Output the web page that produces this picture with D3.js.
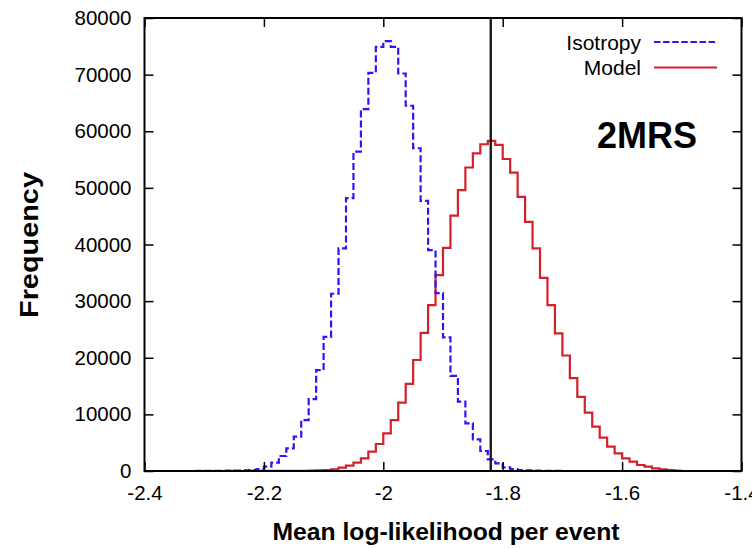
<!DOCTYPE html>
<html>
<head>
<meta charset="utf-8">
<script src="https://cdn.jsdelivr.net/npm/d3@7/dist/d3.min.js"></script>
<style>
  html, body { margin: 0; padding: 0; background: #fff; }
  svg { display: block; font-family: "Liberation Sans", Arial, Helvetica, sans-serif; }
</style>
</head>
<body>
<svg id="chart" width="752" height="548"></svg>
<script>
// Histogram bins: all start at -2.4 and are 0.0125 wide
const binStart = -2.4;
const binWidth = 0.0125;

// Frequency per bin for randomised (isotropic) skies
const isotropyCounts = [
  0, 0, 0, 0, 0, 0, 0, 5, 10, 20,
  30, 50, 80, 120, 170, 350, 760, 1470, 2650, 4000,
  6060, 9000, 12700, 17800, 23700, 31300, 39300, 48200, 56400, 63900,
  70300, 74900, 75900, 74900, 70200, 64500, 57000, 47700, 39000, 31400,
  23600, 16800, 12240, 8420, 5600, 3530, 2060, 1360, 650, 350,
  180, 100, 50, 25, 10, 5
];

// Frequency per bin for skies drawn from the model
const modelCounts = [
  0, 0, 0, 0, 0, 0, 0, 0, 0, 0,
  0, 0, 0, 0, 5, 5, 10, 10, 15, 20,
  30, 45, 65, 100, 150, 300, 580, 940, 1470, 2240,
  3410, 4770, 6660, 9000, 12060, 15400, 19600, 24400, 29300, 34600,
  39400, 45100, 49600, 53600, 56100, 57700, 58300, 57600, 55100, 52700,
  48400, 44000, 39300, 34100, 29300, 24300, 20400, 16400, 13100, 10300,
  7830, 5890, 4300, 3120, 2240, 1650, 1060, 760, 470, 280,
  150, 80
];

// Observed value for the 2MRS catalogue
const observedValue = -1.82;

const xTicks = [-2.4, -2.2, -2.0, -1.8, -1.6, -1.4];
const xTickLabels = ["-2.4", "-2.2", "-2", "-1.8", "-1.6", "-1.4"];
const yTicks = [0, 10000, 20000, 30000, 40000, 50000, 60000, 70000, 80000];

const seriesNames = ["Isotropy", "Model"];
const seriesColors = ["#2f14f6", "#d4202a"];

const svg = d3.select("#chart");
const plot = { left: 144.5, right: 741.5, top: 18, bottom: 471 };

const x = d3.scaleLinear().domain([-2.4, -1.4]).range([plot.left, plot.right]);
const y = d3.scaleLinear().domain([0, 80000]).range([plot.bottom, plot.top]);

// Turn bin counts into step-shaped points (left edge of every bin + final right edge)
function stepPoints(counts) {
  const pts = counts.map((c, i) => [binStart + i * binWidth, c]);
  pts.push([binStart + counts.length * binWidth, counts[counts.length - 1]]);
  return pts;
}
const stepLine = d3.line()
  .x(d => x(d[0]))
  .y(d => y(d[1]))
  .curve(d3.curveStepAfter);

svg.append("clipPath").attr("id", "plotclip")
  .append("rect")
  .attr("x", plot.left).attr("y", plot.top)
  .attr("width", plot.right - plot.left).attr("height", plot.bottom - plot.top);

const g = svg.append("g").attr("clip-path", "url(#plotclip)");

// Model histogram (solid red)
g.append("path")
  .attr("d", stepLine(stepPoints(modelCounts)))
  .attr("fill", "none")
  .attr("stroke", seriesColors[1])
  .attr("stroke-width", 2.2)
  .attr("stroke-linejoin", "miter");

// Isotropy histogram (dashed blue)
g.append("path")
  .attr("d", stepLine(stepPoints(isotropyCounts)))
  .attr("fill", "none")
  .attr("stroke", seriesColors[0])
  .attr("stroke-width", 2.2)
  .attr("stroke-dasharray", "7,3");

// Observed value marker
svg.append("line")
  .attr("x1", x(observedValue)).attr("x2", x(observedValue))
  .attr("y1", plot.top).attr("y2", plot.bottom)
  .attr("stroke", "#1a1a1a")
  .attr("stroke-width", 2.4);

// Axes: ticks pointing inward, mirrored on top and right
const tickLen = 9;
const axisBottom = d3.axisBottom(x).tickValues(xTicks)
  .tickFormat((d, i) => xTickLabels[i]).tickSizeInner(-tickLen).tickSizeOuter(0).tickPadding(14);
const axisTop = d3.axisTop(x).tickValues(xTicks).tickFormat("").tickSizeInner(-tickLen).tickSizeOuter(0);
const axisLeft = d3.axisLeft(y).tickValues(yTicks).tickFormat(d3.format("d"))
  .tickSizeInner(-tickLen).tickSizeOuter(0).tickPadding(13);
const axisRight = d3.axisRight(y).tickValues(yTicks).tickFormat("").tickSizeInner(-tickLen).tickSizeOuter(0);

function styleAxis(sel) {
  sel.select(".domain").remove();
  sel.selectAll(".tick line").attr("stroke", "#000").attr("stroke-width", 1.5);
  sel.selectAll(".tick text")
    .attr("fill", "#000")
    .style("font-size", "20.5px")
    .style("font-family", "'Liberation Sans', Arial, sans-serif");
}

svg.append("g").attr("transform", `translate(0,${plot.bottom})`).call(axisBottom).call(styleAxis);
svg.append("g").attr("transform", `translate(0,${plot.top})`).call(axisTop).call(styleAxis);
svg.append("g").attr("transform", `translate(${plot.left},0)`).call(axisLeft).call(styleAxis);
svg.append("g").attr("transform", `translate(${plot.right},0)`).call(axisRight).call(styleAxis);

// Frame
svg.append("rect")
  .attr("x", plot.left).attr("y", plot.top)
  .attr("width", plot.right - plot.left).attr("height", plot.bottom - plot.top)
  .attr("fill", "none").attr("stroke", "#000").attr("stroke-width", 2);

// Axis titles
svg.append("text")
  .attr("x", 446).attr("y", 540)
  .attr("text-anchor", "middle")
  .attr("textLength", 347).attr("lengthAdjust", "spacingAndGlyphs")
  .style("font-size", "24px").style("font-weight", "bold")
  .text("Mean log-likelihood per event");

svg.append("text")
  .attr("transform", "translate(38,245) rotate(-90)")
  .attr("text-anchor", "middle")
  .attr("textLength", 146).attr("lengthAdjust", "spacingAndGlyphs")
  .style("font-size", "26px").style("font-weight", "bold")
  .text("Frequency");

// Legend
const legend = svg.append("g");
seriesNames.forEach((name, i) => {
  const ly = 42 + i * 25.5;
  legend.append("text")
    .attr("x", 641).attr("y", ly + 7.5)
    .attr("text-anchor", "end")
    .style("font-size", "21px")
    .text(name);
  legend.append("line")
    .attr("x1", 654).attr("x2", 717)
    .attr("y1", ly).attr("y2", ly)
    .attr("stroke", seriesColors[i])
    .attr("stroke-width", 2.2)
    .attr("stroke-dasharray", i === 0 ? "6.5,2.6" : null);
});

// Catalogue tag
svg.append("text")
  .attr("x", 697).attr("y", 148)
  .attr("text-anchor", "end")
  .style("font-size", "36px").style("font-weight", "bold")
  .text("2MRS");
</script>
</body>
</html>
